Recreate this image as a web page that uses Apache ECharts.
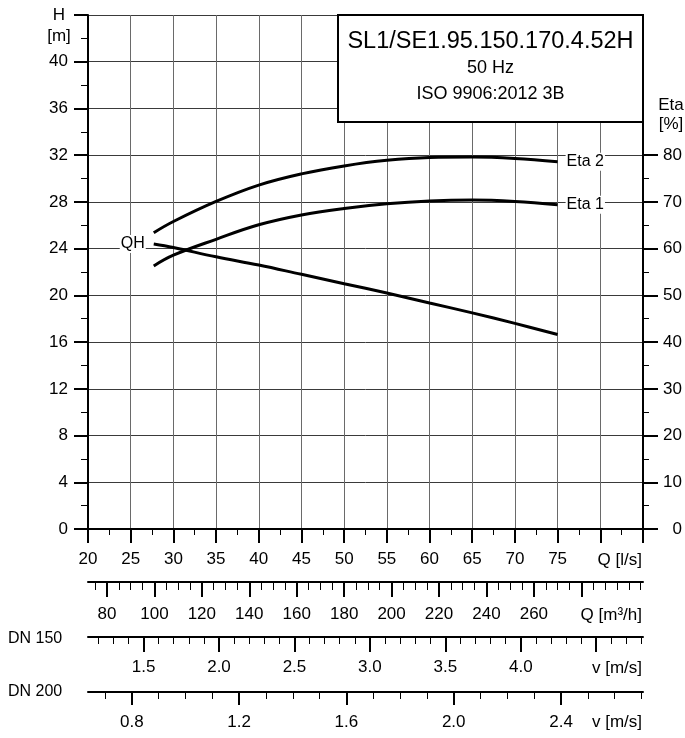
<!DOCTYPE html>
<html>
<head>
<meta charset="utf-8">
<script src="https://cdn.jsdelivr.net/npm/echarts@6/dist/echarts.min.js"></script>
<style>
html,body{margin:0;padding:0;background:#fff;}
#chart{width:685px;height:738px;}
</style>
</head>
<body>
<div id="chart"></div>
<script>
// ---- data ----
const qLs   = [27.7, 30, 35, 40, 45, 50, 55, 60, 65, 70, 75];
const headH = [24.4, 24.1, 23.3, 22.6, 21.8, 21.0, 20.2, 19.35, 18.5, 17.6, 16.65];
const eta1  = [56.3, 58.6, 62.0, 65.1, 67.2, 68.6, 69.6, 70.2, 70.4, 70.1, 69.4];
const eta2  = [63.4, 65.8, 70.1, 73.6, 76.0, 77.7, 78.9, 79.5, 79.6, 79.3, 78.6];

const qRange = [20, 85];                 // l/s
const hRange = [0, 44];                  // m
const etaRange = [0, 110];               // %
const etaMajorTicks = [0, 10, 20, 30, 40, 50, 60, 70, 80];
const etaMinorTicks = [5, 15, 25, 35, 45, 55, 65, 75];

const m3hMajorTicks = [80, 100, 120, 140, 160, 180, 200, 220, 240, 260, 280];
const m3hLabels     = [80, 100, 120, 140, 160, 180, 200, 220, 240, 260];
const v150MajorTicks = [1.5, 2.0, 2.5, 3.0, 3.5, 4.0, 4.5];
const v150Labels     = [1.5, 2.0, 2.5, 3.0, 3.5, 4.0];
const v200MajorTicks = [0.8, 1.2, 1.6, 2.0, 2.4];
const v200Labels     = [0.8, 1.2, 1.6, 2.0, 2.4];

const titleLines = ['SL1/SE1.95.150.170.4.52H', '50 Hz', 'ISO 9906:2012 3B'];

// ---- unit conversions for the secondary scales ----
const area150 = Math.PI * 0.15 * 0.15 / 4;
const area200 = Math.PI * 0.20 * 0.20 / 4;
const toM3h = q => q * 3.6;
const toV150 = q => q / 1000 / area150;
const toV200 = q => q / 1000 / area200;
function range(a, b, step) {
  const out = [];
  for (let v = a; v <= b + 1e-9; v += step) out.push(Math.round(v * 1000) / 1000);
  return out;
}
const m3hMinorTicks = range(75, 305, 5);
const v150MinorTicks = range(1.2, 4.8, 0.1);
const v200MinorTicks = range(0.7, 2.7, 0.1);

const FONT = '"Liberation Sans", Arial, Helvetica, sans-serif';
const BLACK = '#000';

function secondaryAxes(offset, min, max, major, labels, minor, majorLen, minorLen, margin, fmt) {
  return [{
    type: 'value', gridIndex: 0, position: 'bottom', offset: offset,
    min: min, max: max,
    axisLine: { show: true, onZero: false, lineStyle: { color: BLACK, width: 2 } },
    axisTick: { show: true, customValues: major, length: majorLen, lineStyle: { color: BLACK, width: 2 } },
    axisLabel: { show: true, customValues: labels, margin: margin, color: BLACK, fontSize: 17, fontFamily: FONT, formatter: fmt },
    splitLine: { show: false }
  }, {
    type: 'value', gridIndex: 0, position: 'bottom', offset: offset,
    min: min, max: max,
    axisLine: { show: false, onZero: false },
    axisTick: { show: true, customValues: minor, length: minorLen, lineStyle: { color: BLACK, width: 1 } },
    axisLabel: { show: false },
    splitLine: { show: false }
  }];
}

const chart = echarts.init(document.getElementById('chart'), null, { renderer: 'canvas' });

const xAxes = [{
  type: 'value', gridIndex: 0, position: 'bottom',
  min: qRange[0], max: qRange[1], interval: 5,
  axisLine: { show: true, onZero: false, lineStyle: { color: BLACK, width: 2 } },
  axisTick: { show: true, length: 14, lineStyle: { color: BLACK, width: 2 } },
  minorTick: { show: true, splitNumber: 2, length: 6, lineStyle: { color: BLACK, width: 1 } },
  axisLabel: { margin: 22, color: BLACK, fontSize: 17, fontFamily: FONT,
    formatter: v => (v >= 80 ? '' : String(v)) },
  splitLine: { show: true, lineStyle: { color: '#6a6a6a', width: 1 } },
  minorSplitLine: { show: false }
}].concat(
  secondaryAxes(53, toM3h(qRange[0]), toM3h(qRange[1]), m3hMajorTicks, m3hLabels, m3hMinorTicks, 15, 8, 24, v => String(Math.round(v))),
  secondaryAxes(108, toV150(qRange[0]), toV150(qRange[1]), v150MajorTicks, v150Labels, v150MinorTicks, 15, 7, 22, v => v.toFixed(1)),
  secondaryAxes(163, toV200(qRange[0]), toV200(qRange[1]), v200MajorTicks, v200Labels, v200MinorTicks, 13, 7, 22, v => v.toFixed(1))
);

const yAxes = [{
  type: 'value', gridIndex: 0, position: 'left',
  min: hRange[0], max: hRange[1], interval: 4,
  axisLine: { show: true, onZero: false, lineStyle: { color: BLACK, width: 2 } },
  axisTick: { show: true, length: 14, lineStyle: { color: BLACK, width: 2 } },
  minorTick: { show: true, splitNumber: 2, length: 7, lineStyle: { color: BLACK, width: 1 } },
  axisLabel: { margin: 20, color: BLACK, fontSize: 17, fontFamily: FONT,
    formatter: v => (v >= 44 ? '' : String(v)) },
  splitLine: { show: true, lineStyle: { color: '#3a3a3a', width: 1 } },
  minorSplitLine: { show: false }
}, {
  type: 'value', gridIndex: 0, position: 'right',
  min: etaRange[0], max: etaRange[1],
  axisLine: { show: true, onZero: false, lineStyle: { color: BLACK, width: 2 } },
  axisTick: { show: true, customValues: etaMajorTicks, length: 15, lineStyle: { color: BLACK, width: 2 } },
  axisLabel: { show: true, customValues: etaMajorTicks, margin: 39, align: 'right', color: BLACK, fontSize: 17, fontFamily: FONT },
  splitLine: { show: false }
}, {
  type: 'value', gridIndex: 0, position: 'right',
  min: etaRange[0], max: etaRange[1],
  axisLine: { show: false, onZero: false },
  axisTick: { show: true, customValues: etaMinorTicks, length: 6, lineStyle: { color: BLACK, width: 1 } },
  axisLabel: { show: false },
  splitLine: { show: false }
}];

function pairs(xs, ys) { return xs.map((x, i) => [x, ys[i]]); }

function curveLabel(text, coord, pos) {
  return {
    symbol: 'circle', symbolSize: 0, silent: true, animation: false,
    data: [{ coord: coord, value: text }],
    label: { show: true, position: pos, distance: 8, formatter: text, color: BLACK,
      fontSize: 16, fontFamily: FONT, backgroundColor: '#fff', padding: [1, 1] }
  };
}

const lineStyle = { color: BLACK, width: 3 };
const n = qLs.length - 1;

const series = [{
  name: 'QH', type: 'line', xAxisIndex: 0, yAxisIndex: 0,
  data: pairs(qLs, headH), smooth: 0.4, showSymbol: false, lineStyle: lineStyle, itemStyle: { color: BLACK },
  markPoint: curveLabel('QH', [qLs[0], headH[0]], 'left')
}, {
  name: 'Eta 1', type: 'line', xAxisIndex: 0, yAxisIndex: 1,
  data: pairs(qLs, eta1), smooth: 0.4, showSymbol: false, lineStyle: lineStyle, itemStyle: { color: BLACK },
  markPoint: curveLabel('Eta 1', [qLs[n], eta1[n]], 'right')
}, {
  name: 'Eta 2', type: 'line', xAxisIndex: 0, yAxisIndex: 1,
  data: pairs(qLs, eta2), smooth: 0.4, showSymbol: false, lineStyle: lineStyle, itemStyle: { color: BLACK },
  markPoint: curveLabel('Eta 2', [qLs[n], eta2[n]], 'right')
}];

function txt(text, x, y, size, align) {
  return { type: 'text', x: x, y: y, z: 110, silent: true,
    style: { text: text, font: 'normal ' + size + 'px ' + FONT, fill: BLACK,
      align: align, textAlign: align, verticalAlign: 'middle', textVerticalAlign: 'middle' } };
}

const option = {
  animation: false,
  backgroundColor: '#fff',
  grid: [{ left: 88, right: 42, top: 15, bottom: 209, containLabel: false }],
  xAxis: xAxes,
  yAxis: yAxes,
  series: series,
  graphic: [
    { type: 'rect', z: 100, silent: true, shape: { x: 338, y: 15, width: 305, height: 107 },
      style: { fill: '#fff', stroke: BLACK, lineWidth: 2 } },
    txt(titleLines[0], 490.5, 42, 23.5, 'center'),
    txt(titleLines[1], 490.5, 68, 18, 'center'),
    txt(titleLines[2], 490.5, 94, 18, 'center'),
    txt('H', 59, 15, 17, 'center'),
    txt('[m]', 59, 36, 17, 'center'),
    txt('Eta', 671, 105, 17, 'center'),
    txt('[%]', 671, 124, 17, 'center'),
    txt('Q [l/s]', 642, 560, 17, 'right'),
    txt('Q [m³/h]', 642, 615, 17, 'right'),
    txt('v [m/s]', 642, 668, 17, 'right'),
    txt('v [m/s]', 642, 722, 17, 'right'),
    txt('DN 150', 8, 639, 16, 'left'),
    txt('DN 200', 8, 692, 16, 'left')
  ]
};
chart.setOption(option);
</script>
</body>
</html>
